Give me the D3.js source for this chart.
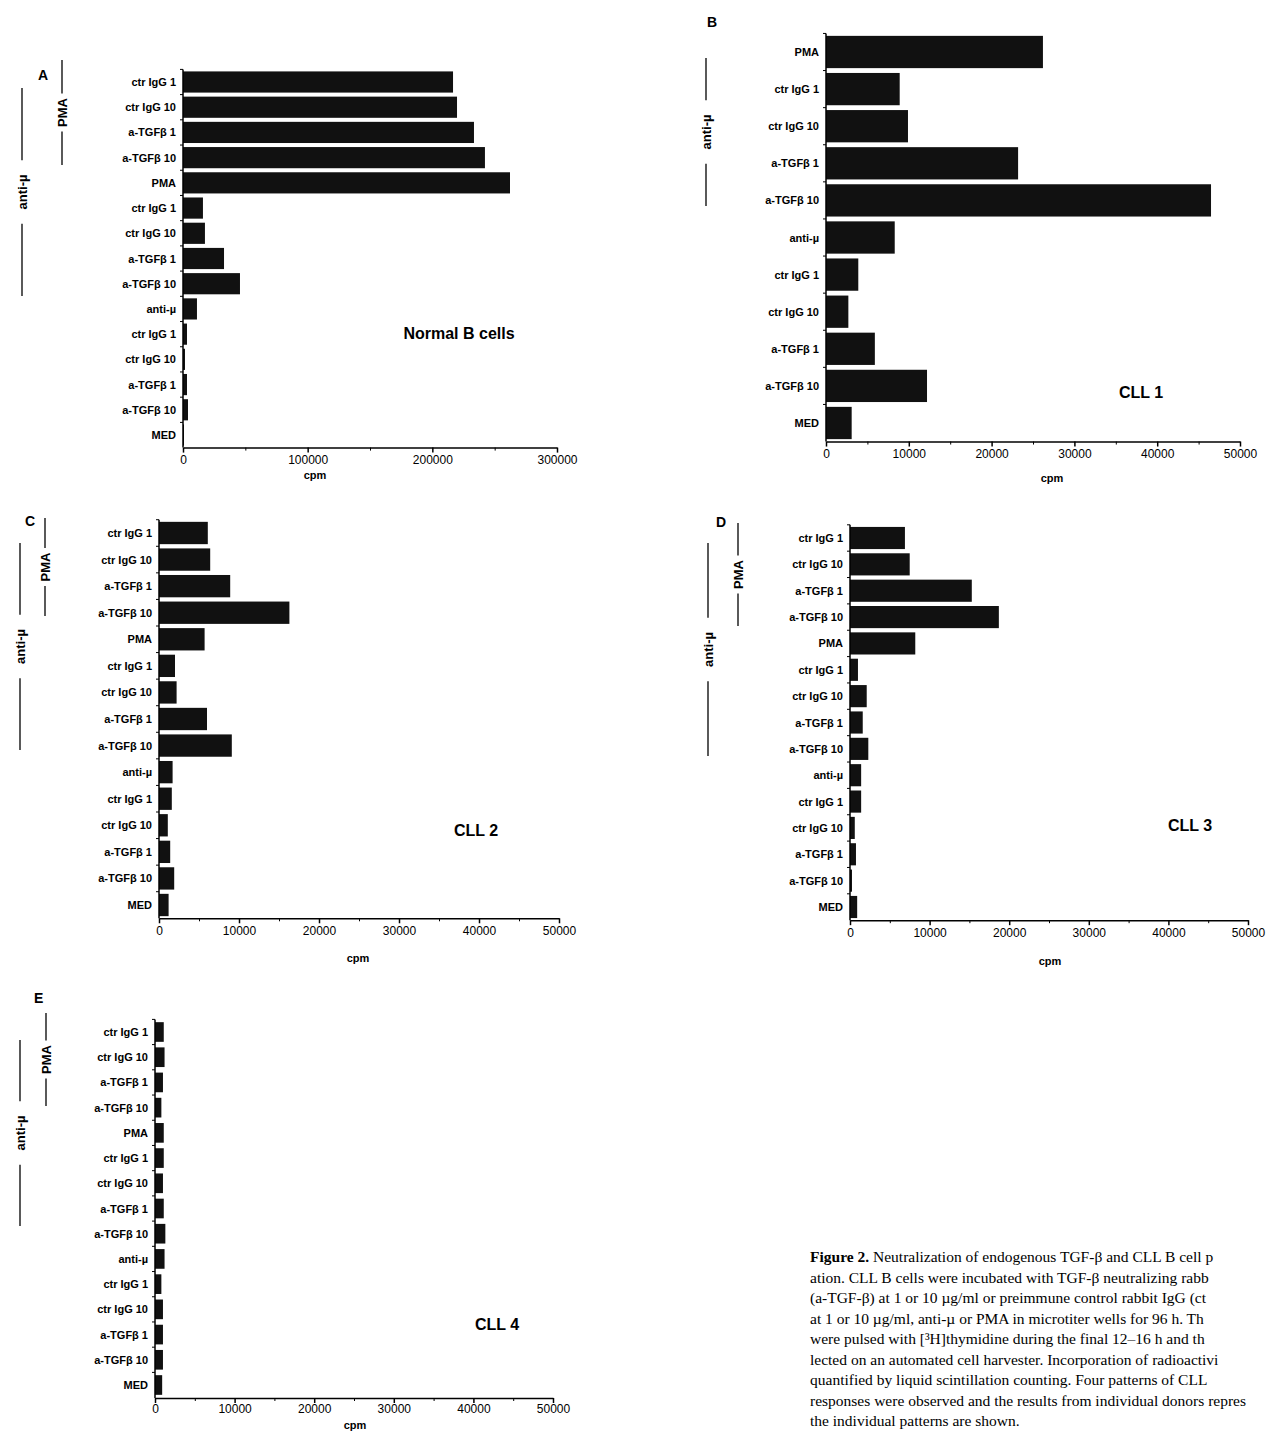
<!DOCTYPE html>
<html><head><meta charset="utf-8">
<script src="https://cdn.jsdelivr.net/npm/d3@7/dist/d3.min.js"></script>
<style>body{margin:0;background:#fff}svg{display:block}</style>
</head><body>
<script>
const labels15 = ["ctr IgG 1","ctr IgG 10","a-TGFβ 1","a-TGFβ 10","PMA","ctr IgG 1","ctr IgG 10","a-TGFβ 1","a-TGFβ 10","anti-µ","ctr IgG 1","ctr IgG 10","a-TGFβ 1","a-TGFβ 10","MED"];
const labelsB = ["PMA","ctr IgG 1","ctr IgG 10","a-TGFβ 1","a-TGFβ 10","anti-µ","ctr IgG 1","ctr IgG 10","a-TGFβ 1","a-TGFβ 10","MED"];
const valuesA = [216600,219800,233400,242200,262300,16000,17600,32900,45700,11200,3200,1600,3200,4000,800];
const valuesB = [26200,8900,9900,23200,46500,8300,3900,2700,5900,12200,3100];
const valuesC = [6100,6400,8900,16300,5700,2000,2200,6000,9100,1700,1600,1100,1400,1900,1200];
const valuesD = [6900,7500,15300,18700,8200,1000,2100,1600,2300,1400,1400,600,750,250,900];
const valuesE = [1100,1200,1000,800,1100,1100,1000,1100,1300,1200,800,1000,1000,1000,900];
const ticksA = [0,100000,200000,300000];
const minorA = [50000,150000,250000];
const ticks50 = [0,10000,20000,30000,40000,50000];
const minor50 = [5000,15000,25000,35000,45000];

const svg = d3.select("body").append("svg").attr("width",1273).attr("height",1433);
const F = "Liberation Sans, Arial, sans-serif";

function panel(o){
  const g = svg.append("g");
  const x = d3.scaleLinear().domain([0,o.max]).range([o.x0,o.x1]);
  const step = (o.yb-o.yt)/(o.labels.length-1);
  const axisY = o.axisY ?? (o.yb+step/2);
  const y = d3.scaleBand().domain(d3.range(o.labels.length)).range([o.yt-step/2,o.yb+step/2]).paddingInner(o.pad).paddingOuter(o.pad/2);
  g.selectAll("rect").data(o.values).join("rect")
    .attr("x",x(0)).attr("y",(d,i)=>y(i)).attr("width",d=>x(d)-x(0)).attr("height",y.bandwidth()).attr("fill","#111");
  const ax = d3.axisBottom(x).tickValues(o.ticks).tickFormat(d3.format("d")).tickSize(5).tickSizeOuter(0);
  const axis=g.append("g").attr("transform",`translate(0,${axisY})`).call(ax);
  axis.selectAll("text").attr("font-family",F).attr("font-size",12).attr("y",o.tickDy||8);
  axis.selectAll("line").attr("stroke-width",1.5);
  axis.select(".domain").attr("stroke-width",1.5);
  const mx = d3.axisBottom(x).tickValues(o.minor).tickFormat("").tickSize(3).tickSizeOuter(0);
  g.append("g").attr("transform",`translate(0,${axisY})`).call(mx).call(s=>s.select(".domain").remove());
  g.append("line").attr("x1",x(0)).attr("x2",x(0)).attr("y1",o.yt-step/2).attr("y2",axisY).attr("stroke","#000").attr("stroke-width",1.5);
  g.selectAll("line.yt").data(d3.range(o.labels.length)).join("line").attr("class","yt")
    .attr("x1",x(0)-3).attr("x2",x(0)).attr("y1",i=>y(i)-step*o.pad/2).attr("y2",i=>y(i)-step*o.pad/2).attr("stroke","#000");
  g.selectAll("text.lab").data(o.labels).join("text").attr("class","lab")
    .attr("x",x(0)-7).attr("y",(d,i)=>y(i)+y.bandwidth()/2+4).attr("text-anchor","end")
    .attr("font-family",F).attr("font-weight","bold").attr("font-size",11).text(d=>d);
  g.append("text").attr("x",o.cpm[0]).attr("y",o.cpm[1]).attr("text-anchor","middle").attr("font-family",F).attr("font-weight","bold").attr("font-size",11).text("cpm");
  g.append("text").attr("x",o.letter[0]).attr("y",o.letter[1]).attr("font-family",F).attr("font-weight","bold").attr("font-size",14).text(o.letter[2]);
  g.append("text").attr("x",o.title[0]).attr("y",o.title[1]).attr("text-anchor","middle").attr("font-family",F).attr("font-weight","bold").attr("font-size",16).text(o.title[2]);
  (o.brackets||[]).forEach(b=>{
    const [bx,y1,y2,t]=b; const c=(y1+y2)/2; const half=t.length*4.3+6;
    g.append("line").attr("x1",bx).attr("x2",bx).attr("y1",y1).attr("y2",c-half).attr("stroke","#000").attr("stroke-width",1.3);
    g.append("line").attr("x1",bx).attr("x2",bx).attr("y1",c+half).attr("y2",y2).attr("stroke","#000").attr("stroke-width",1.3);
    g.append("text").attr("transform",`translate(${bx+5},${c}) rotate(-90)`).attr("text-anchor","middle")
      .attr("font-family",F).attr("font-weight","bold").attr("font-size",13).text(t);
  });
}

panel({x0:183,x1:557,max:300000,yt:82,yb:435,pad:0.16,labels:labels15,values:valuesA,ticks:ticksA,minor:minorA,cpm:[315,479],letter:[38,80,"A"],title:[459,339,"Normal B cells"],brackets:[[62,60,165,"PMA"],[22,88,296,"anti-µ"]]});
panel({x0:826,x1:1240,max:50000,yt:52,yb:423,pad:0.13,labels:labelsB,values:valuesB,ticks:ticks50,minor:minor50,cpm:[1052,482],letter:[707,27,"B"],title:[1141,398,"CLL 1"],brackets:[[706,58,206,"anti-µ"]]});
panel({x0:159,x1:559,max:50000,yt:533,yb:905,pad:0.16,labels:labels15,values:valuesC,ticks:ticks50,minor:minor50,cpm:[358,962],letter:[25,526,"C"],title:[476,836,"CLL 2"],brackets:[[45,518,616,"PMA"],[20,543,750,"anti-µ"]]});
panel({x0:850,x1:1248,max:50000,yt:538,yb:907,pad:0.16,labels:labels15,values:valuesD,ticks:ticks50,minor:minor50,cpm:[1050,965],letter:[716,527,"D"],title:[1190,831,"CLL 3"],brackets:[[738,523,626,"PMA"],[708,543,756,"anti-µ"]]});
panel({x0:155,x1:553,max:50000,yt:1032,yb:1385,axisY:1398,tickDy:6,pad:0.22,labels:labels15,values:valuesE,ticks:ticks50,minor:minor50,cpm:[355,1429],letter:[34,1003,"E"],title:[497,1330,"CLL 4"],brackets:[[46,1013,1106,"PMA"],[20,1040,1226,"anti-µ"]]});

const caption = [
 ["Figure 2."," Neutralization of endogenous TGF-β and CLL B cell p"],
 ["","ation. CLL B cells were incubated with TGF-β neutralizing rabb"],
 ["","(a-TGF-β) at 1 or 10 µg/ml or preimmune control rabbit IgG (ct"],
 ["","at 1 or 10 µg/ml, anti-µ or PMA in microtiter wells for 96 h. Th"],
 ["","were pulsed with [³H]thymidine during the final 12–16 h and th"],
 ["","lected on an automated cell harvester. Incorporation of radioactivi"],
 ["","quantified by liquid scintillation counting. Four patterns of CLL"],
 ["","responses were observed and the results from individual donors repres"],
 ["","the individual patterns are shown."]
];
caption.forEach((c,i)=>{
  const t=svg.append("text").attr("x",810).attr("y",1262+i*20.5).attr("font-family","Liberation Serif, Times New Roman, serif").attr("font-size",15.5);
  if(c[0]) t.append("tspan").attr("font-weight","bold").text(c[0]+" ");
  t.append("tspan").text(c[1]);
});
</script>
</body></html>
